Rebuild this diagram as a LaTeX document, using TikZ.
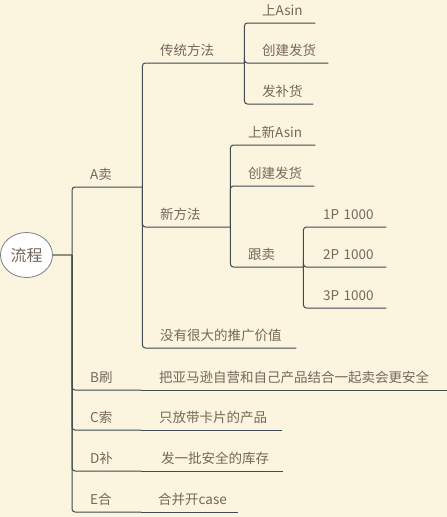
\documentclass[tikz,border=0pt]{standalone}
\usepackage{fontspec}
\setmainfont{Noto Sans CJK SC}
\usepackage{tikz}
\usetikzlibrary{shapes.geometric}

\definecolor{paper}{HTML}{FBF4DF}
\definecolor{ink}{HTML}{76675A}
\definecolor{wire}{HTML}{3F4A52}
\definecolor{stem}{HTML}{8E8E84}

\tikzset{
  topic/.style={anchor=south west, inner xsep=0pt, inner ysep=4pt,
    text height=10pt, text depth=3pt, align=left, text width=#1,
    text=ink, font=\fontsize{13.5pt}{15pt}\selectfont},
  branch/.style={draw=wire, line width=1pt, rounded corners=3pt},
}

\begin{document}
\begin{tikzpicture}[x=1pt,y=-1pt]
    \fill[paper] (0,0) rectangle (447,517);
    \useasboundingbox (0,0) rectangle (447,517);

    % root
    \node[ellipse, draw=wire!70, fill=white, line width=0.8pt,
      minimum width=52pt, minimum height=45pt, inner sep=0pt, text=ink,
      font=\fontsize{16pt}{18pt}\selectfont] (root) at (26.5,255) {流程};
    \coordinate (hub) at (72,255);
    \draw[stem, line width=2pt] (root.east) -- (hub);

    % first level
    \node[topic=52pt] (sell) at (90,187) {A卖};
    \node[topic=51pt] (brush) at (90,390) {B刷};
    \node[topic=51pt] (ask) at (90,430) {C索};
    \node[topic=51pt] (fill) at (90,471) {D补};
    \node[topic=51pt] (merge) at (90,512) {E合};

    % notes of B to E
    \node[topic=288pt] (brushnote) at (159,390) {把亚马逊自营和自己产品结合一起卖会更安全};
    \node[topic=123pt] (asknote) at (159,430) {只放带卡片的产品};
    \node[topic=122pt] (fillnote) at (161,471) {发一批安全的库存};
    \node[topic=80pt] (mergenote) at (158,512) {合并开case};

    % under A
    \node[topic=84pt] (old) at (160,63) {传统方法};
    \node[topic=70pt] (new) at (160,227) {新方法};
    \node[topic=136pt] (promo) at (160,348) {没有很大的推广价值};

    % old way
    \node[topic=53pt] (oldasin) at (262,23) {上Asin};
    \node[topic=66pt] (oldship) at (262,63) {创建发货};
    \node[topic=51pt] (oldrefill) at (262,104) {发补货};

    % new way
    \node[topic=67pt] (newasin) at (248,145) {上新Asin};
    \node[topic=66pt] (newship) at (248,186) {创建发货};
    \node[topic=55pt] (follow) at (248,267) {跟卖};

    % follow sell
    \node[topic=63pt] (onep) at (323,227) {1P 1000};
    \node[topic=63pt] (twop) at (323,267) {2P 1000};
    \node[topic=63pt] (threep) at (323,308) {3P 1000};

    % connectors
    \foreach \k in {sell,brush,ask,fill,merge}
      \draw[branch] (hub) |- (\k.south east);
    \draw[branch] (brush.south east) -- (brushnote.south east);
    \draw[branch] (ask.south east) -- (asknote.south east);
    \draw[branch] (fill.south east) -- (fillnote.south east);
    \draw[branch] (merge.south east) -- (mergenote.south east);
    \foreach \k in {old,new,promo}
      \draw[branch] (sell.south east) |- (\k.south east);
    \foreach \k in {oldasin,oldship,oldrefill}
      \draw[branch] (old.south east) |- (\k.south east);
    \foreach \k in {newasin,newship,follow}
      \draw[branch] (new.south east) |- (\k.south east);
    \foreach \k in {onep,twop,threep}
      \draw[branch] (follow.south east) |- (\k.south east);
\end{tikzpicture}
\end{document}
